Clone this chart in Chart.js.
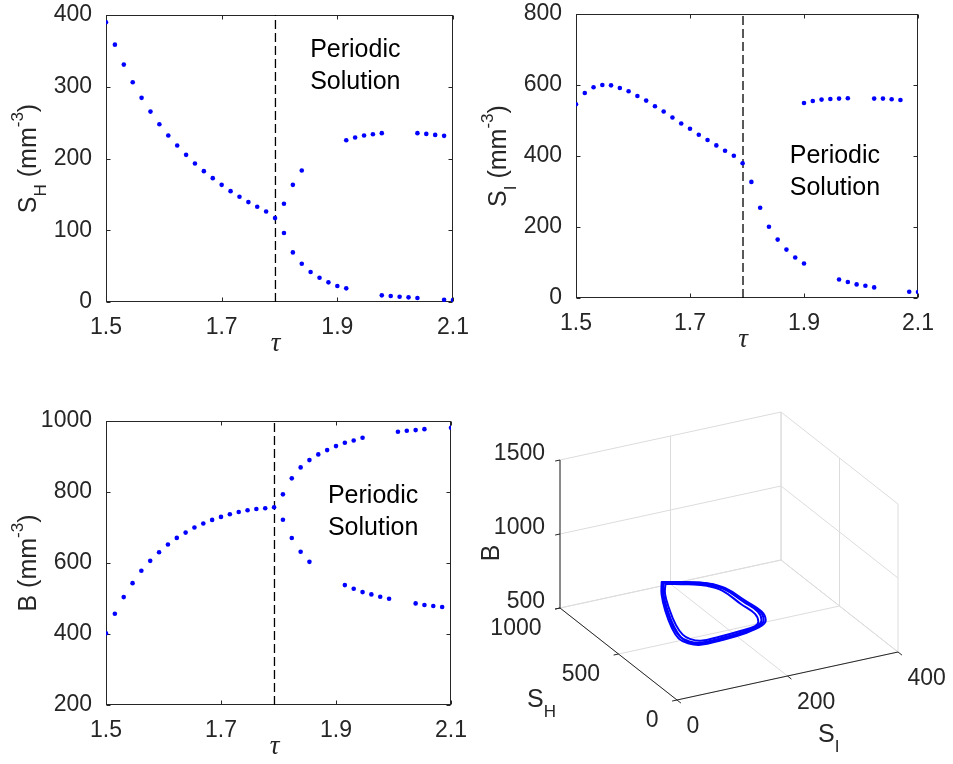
<!DOCTYPE html>
<html>
<head>
<meta charset="utf-8">
<script src="https://cdn.jsdelivr.net/npm/chart.js@4/dist/chart.umd.min.js"></script>
<style>
  html, body { margin: 0; padding: 0; background: #fff; }
  #wrap { position: relative; width: 953px; height: 764px; overflow: hidden; background: #fff; }
  canvas { position: absolute; }
</style>
</head>
<body>
<div id="wrap">
  <canvas id="pSH" width="470" height="390" style="left:0;top:0"></canvas>
  <canvas id="pSI" width="483" height="390" style="left:470px;top:0"></canvas>
  <canvas id="pB" width="470" height="374" style="left:0;top:390px"></canvas>
  <canvas id="pCycle" width="483" height="374" style="left:470px;top:390px"></canvas>
</div>
<script>
// ---- delay values (tau) ----
const tauBefore = [1.5, 1.5154, 1.5308, 1.5462, 1.5615, 1.5769, 1.5923, 1.6077, 1.6231, 1.6385,
                   1.6538, 1.6692, 1.6846, 1.7, 1.7154, 1.7308, 1.7462, 1.7615, 1.7769, 1.7923];
const tauAfter  = [1.8077, 1.8231, 1.8385, 1.8538, 1.8692, 1.8846, 1.9, 1.9154, 1.9308, 1.9462,
                   1.9615, 1.9769, 1.9923, 2.0077, 2.0231, 2.0385, 2.0538, 2.0692, 2.0846, 2.1];
const tauTicks = [1.5, 1.7, 1.9, 2.1];
const tauCritical = 1.793;

// ---- S_H: equilibrium, then max / min of the oscillation ----
const shTicks = [0, 100, 200, 300, 400];
const shStable = [389.8, 358.7, 330.9, 306.3, 284.5, 265.4, 247.8, 232.0, 218.1, 205.1,
                  193.0, 182.4, 172.6, 163.3, 154.5, 146.6, 139.2, 132.7, 126.2, 116.9];
const shUpper = [136.9, 163.3, 183.3, null, null, null, null, 225.5, 229.2, 232.0,
                 233.9, 235.3, null, null, null, 235.3, 234.3, 232.9, 231.6, null];
const shLower = [96.1, 69.1, 53.4, 41.8, 33.9, 27.4, 22.3, 19.0, null, null,
                 null, 9.3, 8.4, 7.4, 6.5, 5.6, null, null, 3.2, 2.8];

// ---- S_I ----
const siTicks = [0, 200, 400, 600, 800];
const siStable = [545.8, 577.6, 593.5, 600.0, 599.0, 591.6, 582.2, 569.2, 556.1, 540.2,
                  525.2, 508.4, 491.6, 476.6, 459.8, 444.9, 429.9, 415.0, 400.9, 379.4];
const siUpper = [null, null, null, null, null, null, 549.5, 555.1, 558.9, 560.7,
                 561.7, 562.6, null, null, 561.7, 561.7, 559.8, 557.9, null, null];
const siLower = [327.1, 254.2, 200.9, 164.5, 136.4, 114.0, 97.2, null, null, null,
                 52.3, 44.9, 38.3, 34.6, 29.9, null, null, null, 17.8, 16.8];

// ---- B ----
const bTicks = [200, 400, 600, 800, 1000];
const bStable = [401.9, 457.1, 504.0, 543.3, 578.0, 606.1, 630.4, 652.0, 670.7, 685.7,
                 699.8, 711.1, 721.4, 729.8, 737.3, 743.8, 748.5, 752.3, 754.1, 757.0];
const bUpper = [793.4, 838.4, 869.3, 889.9, 905.9, 918.0, 929.3, 938.7, 945.2, 952.7,
                null, null, null, 969.6, 972.5, 974.3, 977.1, null, null, 980.8];
const bLower = [721.8, 670.3, 631.9, 603.3, null, null, null, 537.7, 527.4, 518.0,
                511.5, 504.9, 499.3, null, null, 486.2, 481.5, 478.7, 475.9, null];

// ---- limit cycle, points as [S_I, S_H, B] ----
const cycleTicksSI = [0, 200, 400];
const cycleTicksSH = [0, 500, 1000];
const cycleTicksB  = [500, 1000, 1500];
const orbitA = [[99,588,850],[138,568,830],[172,559,800],[198,538,760],[218,462,700],[234,413,650],
                [232,373,620],[224,362,600],[196,358,580],[156,370,560],[120,370,560],[101,381,580],
                [89,395,610],[84,430,660],[86,496,730],[91,551,800]];
const orbitB = [[103,585,838],[140,566,816],[172,556,786],[196,535,746],[213,460,690],[228,410,642],
                [226,372,614],[218,362,598],[192,358,590],[155,370,572],[121,370,572],[104,381,592],
                [94,395,620],[89,430,668],[91,496,734],[95,551,798]];
const orbitC = [[97,589,852],[137,569,832],[173,560,800],[201,540,758],[224,465,696],[241,415,644],
                [240,375,612],[231,364,590],[201,360,566],[159,372,544],[121,371,544],[100,382,566],
                [87,396,598],[82,431,652],[84,497,726],[89,552,798]];
const orbitD = [[100,587,846],[139,567,825],[172,558,794],[199,537,754],[221,463,694],[238,413,646],
                [236,374,616],[228,363,596],[199,359,574],[158,371,553],[121,370,552],[102,381,572],
                [91,395,604],[86,430,656],[88,496,728],[92,551,800]];

const FONT = '"Liberation Sans", Arial, Helvetica, sans-serif';
const AXIS = '#262626';
const DOT = '#0000ff';

function pairs(xs, ys) {
  const out = [];
  ys.forEach((y, i) => { if (y !== null) out.push({ x: xs[i], y: y }); });
  return out;
}

// draws a run of text pieces (with sub/superscripts) starting or centred at x
function drawRich(ctx, parts, x, y, align) {
  let total = 0;
  parts.forEach(p => { ctx.font = p.size + 'px ' + FONT; p.w = ctx.measureText(p.t).width; total += p.w; });
  let cx = align === 'center' ? x - total / 2 : x;
  ctx.textAlign = 'left';
  ctx.textBaseline = 'alphabetic';
  parts.forEach(p => {
    ctx.font = p.size + 'px ' + FONT;
    ctx.fillText(p.t, cx, y + (p.dy || 0));
    cx += p.w;
  });
}

const panelInfo = {};

// boxed axes with inward ticks, rotated y title, tau label and the note
const axesBox = {
  id: 'axesBox',
  beforeDatasetsDraw(chart) {
    const { ctx, chartArea: a, scales: { x, y } } = chart;
    const L = Math.round(a.left) + 0.5, R = Math.round(a.right) - 0.5;
    const T = Math.round(a.top) + 0.5, B = Math.round(a.bottom) - 0.5;
    ctx.save();
    ctx.strokeStyle = AXIS;
    ctx.lineWidth = 1;
    ctx.strokeRect(L, T, R - L, B - T);
    const tl = 4;
    ctx.beginPath();
    x.ticks.forEach(t => {
      const px = Math.round(x.getPixelForValue(t.value)) + 0.5;
      ctx.moveTo(px, B); ctx.lineTo(px, B - tl);
      ctx.moveTo(px, T); ctx.lineTo(px, T + tl);
    });
    y.ticks.forEach(t => {
      const py = Math.round(y.getPixelForValue(t.value)) + 0.5;
      ctx.moveTo(L, py); ctx.lineTo(L + tl, py);
      ctx.moveTo(R, py); ctx.lineTo(R - tl, py);
    });
    ctx.stroke();
    ctx.restore();
  },
  afterDatasetsDraw(chart) {
    const info = panelInfo[chart.canvas.id];
    const { ctx, scales: { x, y } } = chart;
    ctx.save();
    ctx.fillStyle = '#000';
    ctx.font = '25px ' + FONT;
    ctx.textAlign = 'left';
    ctx.textBaseline = 'middle';
    const nx = x.getPixelForValue(info.note.x), ny = y.getPixelForValue(info.note.y);
    ctx.fillText('Periodic', nx, ny);
    ctx.fillText('Solution', nx, ny + 32);
    ctx.restore();
  },
  afterDraw(chart) {
    const info = panelInfo[chart.canvas.id];
    const { ctx, chartArea: a } = chart;
    ctx.save();
    ctx.fillStyle = AXIS;
    ctx.translate(a.left - 70.5, (a.top + a.bottom) / 2);
    ctx.rotate(-Math.PI / 2);
    drawRich(ctx, info.title, 0, 0, 'center');
    ctx.restore();
    ctx.save();
    ctx.fillStyle = AXIS;
    ctx.font = 'italic 27px "Liberation Serif", "DejaVu Serif", serif';
    ctx.textAlign = 'center';
    ctx.textBaseline = 'middle';
    ctx.fillText('\u03C4', (a.left + a.right) / 2 - 4, a.bottom + 42);
    ctx.restore();
  }
};

function dots(data) {
  return { data: data, pointRadius: 2.3, pointHoverRadius: 2.3, pointBackgroundColor: DOT,
           pointBorderWidth: 0, backgroundColor: DOT, borderColor: DOT, showLine: false };
}

function panel(id, o) {
  panelInfo[id] = o;
  const lo = o.ticks[0], hi = o.ticks[o.ticks.length - 1];
  return new Chart(document.getElementById(id), {
    type: 'scatter',
    data: {
      datasets: [
        dots(pairs(tauBefore, o.stable)),
        dots(pairs(tauAfter, o.upper)),
        dots(pairs(tauAfter, o.lower)),
        { data: [{ x: tauCritical, y: lo }, { x: tauCritical, y: hi }], showLine: true,
          borderColor: '#000', borderWidth: 1.3, borderDash: [9, 4], pointRadius: 0, fill: false }
      ]
    },
    options: {
      responsive: false, animation: false, devicePixelRatio: 1, events: [],
      layout: { autoPadding: false, padding: { left: 0, top: o.top, right: o.right, bottom: 0 } },
      plugins: { legend: { display: false }, tooltip: { enabled: false } },
      scales: {
        x: {
          type: 'linear', min: 1.5, max: 2.1,
          afterBuildTicks: s => { s.ticks = tauTicks.map(v => ({ value: v })); },
          afterFit: s => { s.height = o.xh; s.paddingLeft = 0; s.paddingRight = 0; },
          grid: { display: false, drawTicks: false }, border: { display: false },
          ticks: { autoSkip: false, maxRotation: 0, padding: 12, color: AXIS,
                   font: { family: FONT, size: 23 }, callback: v => Number(v).toFixed(1) }
        },
        y: {
          type: 'linear', min: lo, max: hi,
          afterBuildTicks: s => { s.ticks = o.ticks.map(v => ({ value: v })); },
          afterFit: s => { s.width = 106; s.paddingTop = 0; s.paddingBottom = 0; },
          grid: { display: false, drawTicks: false }, border: { display: false },
          ticks: { autoSkip: false, padding: 14, color: AXIS,
                   font: { family: FONT, size: 23 }, callback: v => String(v) }
        }
      }
    },
    plugins: [axesBox]
  });
}

const unitTitle = (main, sub) => {
  const parts = [{ t: main, size: 25 }];
  if (sub) parts.push({ t: sub, size: 17, dy: 10.5 });
  parts.push({ t: ' (mm', size: 25 }, { t: '-3', size: 17, dy: -13 }, { t: ')', size: 25 });
  return parts;
};

panel('pSH', { ticks: shTicks, stable: shStable, upper: shUpper, lower: shLower,
               top: 15, right: 17, xh: 88, title: unitTitle('S', 'H'), note: { x: 1.853, y: 351 } });
panel('pSI', { ticks: siTicks, stable: siStable, upper: siUpper, lower: siLower,
               top: 14, right: 35, xh: 92, title: unitTitle('S', 'I'), note: { x: 1.875, y: 400 } });
panel('pB',  { ticks: bTicks, stable: bStable, upper: bUpper, lower: bLower,
               top: 31, right: 19, xh: 59, title: unitTitle('B', null), note: { x: 1.886, y: 789 } });

// ---- 3-D phase portrait: oblique projection onto the canvas plane ----
const siMin = cycleTicksSI[0], siMax = cycleTicksSI[cycleTicksSI.length - 1];
const shMin = cycleTicksSH[0], shMax = cycleTicksSH[cycleTicksSH.length - 1];
const bMin = cycleTicksB[0], bMax = cycleTicksB[cycleTicksB.length - 1];
const view3d = { ox: 207, oy: 310, si: [221, -48], sh: [-117, -92], b: [0, -148] };

function project(si, sh, b) {
  const s = (si - siMin) / (siMax - siMin);
  const h = (sh - shMin) / (shMax - shMin);
  const z = (b - bMin) / (bMax - bMin);
  return {
    x: view3d.ox + s * view3d.si[0] + h * view3d.sh[0] + z * view3d.b[0],
    y: view3d.oy + s * view3d.si[1] + h * view3d.sh[1] + z * view3d.b[1]
  };
}

function orbitSet(orbit) {
  const data = orbit.map(p => project(p[0], p[1], p[2]));
  data.push(project(orbit[0][0], orbit[0][1], orbit[0][2]));
  return { data: data, showLine: true, tension: 0.42, pointRadius: 0, borderColor: DOT,
           borderWidth: 2, borderCapStyle: 'round', borderJoinStyle: 'round', fill: false };
}

const cube = {
  id: 'cube',
  beforeDatasetsDraw(chart) {
    const { ctx, scales: { x, y } } = chart;
    const P = (si, sh, b) => { const p = project(si, sh, b); return [x.getPixelForValue(p.x), y.getPixelForValue(p.y)]; };
    const seg = (p, q) => { ctx.beginPath(); ctx.moveTo(p[0], p[1]); ctx.lineTo(q[0], q[1]); ctx.stroke(); };
    ctx.save();
    ctx.lineWidth = 1;
    ctx.strokeStyle = '#dcdcdc';
    cycleTicksSI.forEach(s => seg(P(s, shMax, bMin), P(s, shMax, bMax)));
    cycleTicksB.forEach(b => seg(P(siMin, shMax, b), P(siMax, shMax, b)));
    cycleTicksSH.forEach(h => seg(P(siMax, h, bMin), P(siMax, h, bMax)));
    cycleTicksB.forEach(b => seg(P(siMax, shMin, b), P(siMax, shMax, b)));
    cycleTicksSI.forEach(s => seg(P(s, shMin, bMin), P(s, shMax, bMin)));
    cycleTicksSH.forEach(h => seg(P(siMin, h, bMin), P(siMax, h, bMin)));
    ctx.strokeStyle = AXIS;
    seg(P(siMin, shMin, bMin), P(siMax, shMin, bMin));
    seg(P(siMin, shMin, bMin), P(siMin, shMax, bMin));
    seg(P(siMin, shMax, bMin), P(siMin, shMax, bMax));
    const d1 = [-221 / 226.2 * 5, 48 / 226.2 * 5];
    const d2 = [117 / 148.9 * 5, 92 / 148.9 * 5];
    cycleTicksB.forEach(b => { const p = P(siMin, shMax, b); seg(p, [p[0] + d1[0], p[1] + d1[1]]); });
    cycleTicksSH.forEach(h => { const p = P(siMin, h, bMin); seg(p, [p[0] + d1[0], p[1] + d1[1]]); });
    cycleTicksSI.forEach(s => { const p = P(s, shMin, bMin); seg(p, [p[0] + d2[0], p[1] + d2[1]]); });
    ctx.restore();
  },
  afterDraw(chart) {
    const { ctx, scales: { x, y } } = chart;
    const P = (si, sh, b) => { const p = project(si, sh, b); return [x.getPixelForValue(p.x), y.getPixelForValue(p.y)]; };
    ctx.save();
    ctx.fillStyle = AXIS;
    ctx.font = '23px ' + FONT;
    ctx.textBaseline = 'middle';
    ctx.textAlign = 'right';
    cycleTicksB.forEach(b => { const p = P(siMin, shMax, b); ctx.fillText(String(b), p[0] - 15, p[1] - 6); });
    cycleTicksSH.forEach(h => { const p = P(siMin, h, bMin); ctx.fillText(String(h), p[0] - 18.5, p[1] + 21); });
    ctx.textAlign = 'left';
    cycleTicksSI.forEach(s => { const p = P(s, shMin, bMin); ctx.fillText(String(s), p[0] + 9.5, p[1] + 27); });
    const A = P(siMin, shMax, bMin), O = P(siMin, shMin, bMin);
    ctx.save();
    ctx.translate(A[0] - 68, A[1] - 55);
    ctx.rotate(-Math.PI / 2);
    ctx.font = '25px ' + FONT;
    ctx.textAlign = 'center';
    ctx.fillText('B', 0, 0);
    ctx.restore();
    drawRich(ctx, [{ t: 'S', size: 25 }, { t: 'H', size: 17, dy: 10 }], O[0] - 150, O[1] + 7, 'left');
    drawRich(ctx, [{ t: 'S', size: 25 }, { t: 'I', size: 17, dy: 10 }], O[0] + 141, O[1] + 42, 'left');
    ctx.restore();
  }
};

new Chart(document.getElementById('pCycle'), {
  type: 'scatter',
  data: { datasets: [orbitSet(orbitA), orbitSet(orbitB), orbitSet(orbitC), orbitSet(orbitD)] },
  options: {
    responsive: false, animation: false, devicePixelRatio: 1, events: [],
    layout: { autoPadding: false, padding: 0 },
    plugins: { legend: { display: false }, tooltip: { enabled: false } },
    scales: {
      x: { type: 'linear', display: false, min: 0, max: 483 },
      y: { type: 'linear', display: false, min: 0, max: 374, reverse: true }
    }
  },
  plugins: [cube]
});
</script>
</body>
</html>
